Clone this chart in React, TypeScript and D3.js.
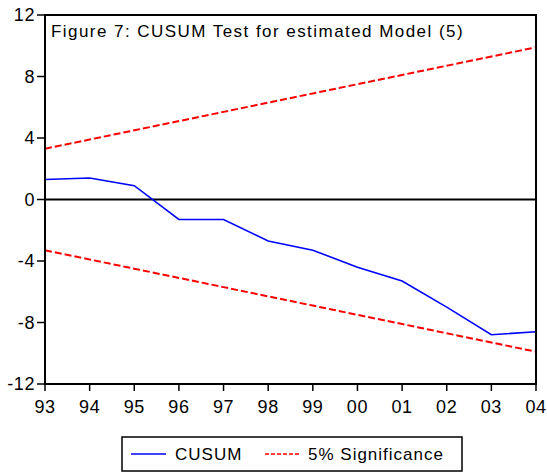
import React from "react";
import * as d3 from "d3";

const years = ["93", "94", "95", "96", "97", "98", "99", "00", "01", "02", "03", "04"];
const cusum = [1.3, 1.4, 0.9, -1.3, -1.3, -2.7, -3.3, -4.4, -5.3, -7.0, -8.8, -8.6];
const upper = [3.3, 3.9, 4.5, 5.1, 5.7, 6.3, 6.9, 7.5, 8.1, 8.7, 9.3, 9.9];
const lower = [-3.3, -3.9, -4.5, -5.1, -5.7, -6.3, -6.9, -7.5, -8.1, -8.7, -9.3, -9.9];
const yTicks = [12, 8, 4, 0, -4, -8, -12];
const title = "Figure 7: CUSUM Test for estimated Model (5)";

export default function App() {
  const W = 547, H = 474;
  const left = 45, right = 536, top = 15, bottom = 384;
  const x = d3.scaleLinear().domain([0, years.length - 1]).range([left, right]);
  const y = d3.scaleLinear().domain([-12, 12]).range([bottom, top]);
  const line = d3.line<number>().x((_, i) => x(i)).y((d) => y(d));
  const font = "'Liberation Sans', Arial, sans-serif";
  return (
    <svg width={W} height={H} style={{ position: "absolute", left: 0, top: 0, background: "#fff" }} fontFamily={font}>
      <rect x={0} y={0} width={W} height={H} fill="#fff" />
      <line x1={left} x2={right} y1={y(0)} y2={y(0)} stroke="#000" strokeWidth={1.8} />
      <path d={line(upper) || ""} fill="none" stroke="#ff0000" strokeWidth={2} strokeDasharray="7,3" />
      <path d={line(lower) || ""} fill="none" stroke="#ff0000" strokeWidth={2} strokeDasharray="7,3" />
      <path d={line(cusum) || ""} fill="none" stroke="#0000ff" strokeWidth={1.6} />
      <rect x={left} y={top} width={right - left} height={bottom - top} fill="none" stroke="#000" strokeWidth={2} />
      {yTicks.map((t) => (
        <g key={t}>
          <line x1={left - 8} x2={left} y1={y(t)} y2={y(t)} stroke="#000" strokeWidth={1.5} />
          <text x={left - 10} y={y(t)} dy="0.35em" textAnchor="end" fontSize={18} letterSpacing={0.6}>{t}</text>
        </g>
      ))}
      {years.map((yr, i) => (
        <g key={yr}>
          <line x1={x(i)} x2={x(i)} y1={bottom} y2={bottom + 7} stroke="#000" strokeWidth={1.5} />
          <text x={x(i)} y={bottom + 29} textAnchor="middle" fontSize={18} letterSpacing={0.6}>{yr}</text>
        </g>
      ))}
      <text x={51} y={37} fontSize={17} letterSpacing={1.45}>{title}</text>
      <rect x={122} y={437} width={340} height={34} fill="none" stroke="#000" strokeWidth={1.5} />
      <line x1={131} x2={166} y1={454} y2={454} stroke="#0000ff" strokeWidth={1.5} />
      <text x={175} y={454} dy="0.35em" fontSize={17} letterSpacing={1}>CUSUM</text>
      <line x1={265} x2={301} y1={454} y2={454} stroke="#ff0000" strokeWidth={1.5} strokeDasharray="4,2" />
      <text x={308} y={454} dy="0.35em" fontSize={17} letterSpacing={1}>5% Significance</text>
    </svg>
  );
}
